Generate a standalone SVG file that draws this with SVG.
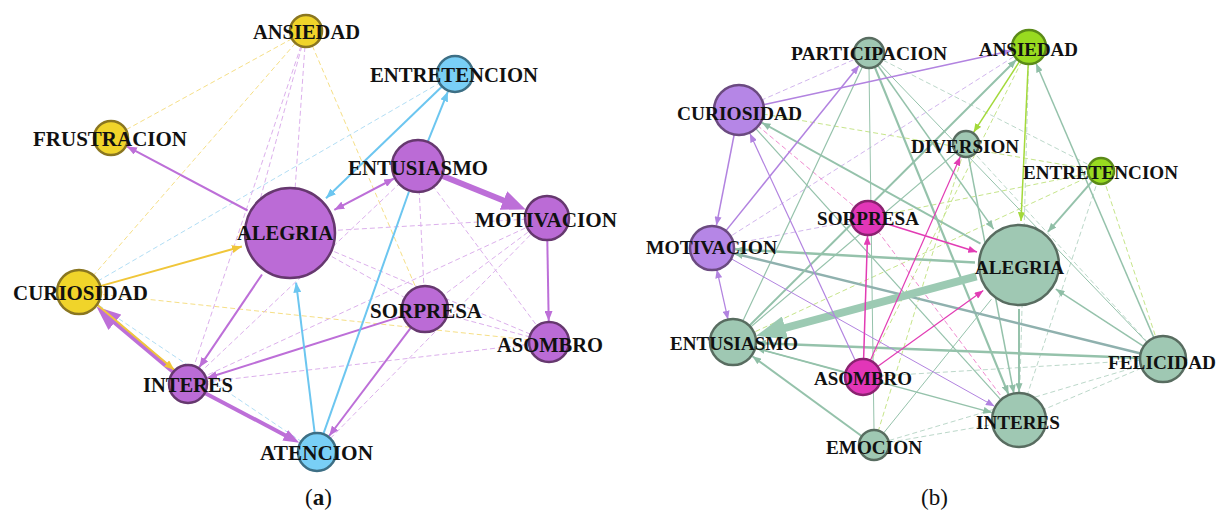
<svg xmlns="http://www.w3.org/2000/svg" width="1219" height="518" viewBox="0 0 1219 518">
<style>
.lbl{font-family:"Liberation Serif","Times New Roman",serif;font-weight:bold;font-size:20px;fill:#111}
.lbr{font-family:"Liberation Serif","Times New Roman",serif;font-weight:bold;font-size:19px;fill:#111}
.cap{font-family:"Liberation Serif","Times New Roman",serif;font-size:23px;fill:#111}
.e{fill:none}
.d{fill:none;stroke-width:1;stroke-dasharray:5 3}
.np{fill:#bb6bd6;stroke:#66386f;stroke-width:2.5}
.ny{fill:#f0d42a;stroke:#8a7620;stroke-width:2.5}
.nb{fill:#79cff6;stroke:#3d6f85;stroke-width:2.5}
.ng{fill:#9fc8b3;stroke:#586c60;stroke-width:2.5}
.nl{fill:#b586e6;stroke:#6b4a80;stroke-width:2.5}
.nm{fill:#e236b8;stroke:#8a2270;stroke-width:2.5}
.nv{fill:#98db20;stroke:#5b8a18;stroke-width:2.5}
</style>
<defs>
<marker id="aP" viewBox="0 0 10 8" refX="10" refY="4" markerWidth="10" markerHeight="8" markerUnits="userSpaceOnUse" orient="auto-start-reverse"><path d="M0,0L10,4L0,8z" fill="#bd6fd8"/></marker>
<marker id="aB" viewBox="0 0 10 8" refX="10" refY="4" markerWidth="10" markerHeight="8" markerUnits="userSpaceOnUse" orient="auto-start-reverse"><path d="M0,0L10,4L0,8z" fill="#6cc6f0"/></marker>
<marker id="aY" viewBox="0 0 10 8" refX="10" refY="4" markerWidth="10" markerHeight="8" markerUnits="userSpaceOnUse" orient="auto-start-reverse"><path d="M0,0L10,4L0,8z" fill="#f0c63a"/></marker>
<marker id="aPbig" viewBox="0 0 24 20" refX="2" refY="10" markerWidth="24" markerHeight="20" markerUnits="userSpaceOnUse" orient="auto"><path d="M0,0L24,10L0,20z" fill="#bd6fd8"/></marker>
<marker id="aPmed" viewBox="0 0 16 12" refX="2" refY="6" markerWidth="16" markerHeight="12" markerUnits="userSpaceOnUse" orient="auto"><path d="M0,0L16,6L0,12z" fill="#bd6fd8"/></marker>
<marker id="aG" viewBox="0 0 10 8" refX="10" refY="4" markerWidth="9" markerHeight="7" markerUnits="userSpaceOnUse" orient="auto-start-reverse"><path d="M0,0L10,4L0,8z" fill="#8fbea6"/></marker>
<marker id="aGbig" viewBox="0 0 30 24" refX="2" refY="12" markerWidth="30" markerHeight="24" markerUnits="userSpaceOnUse" orient="auto"><path d="M0,0L30,12L0,24z" fill="#9ccab3"/></marker>
<marker id="aL" viewBox="0 0 10 8" refX="10" refY="4" markerWidth="9" markerHeight="7" markerUnits="userSpaceOnUse" orient="auto-start-reverse"><path d="M0,0L10,4L0,8z" fill="#b283e0"/></marker>
<marker id="aM" viewBox="0 0 10 8" refX="10" refY="4" markerWidth="9" markerHeight="7" markerUnits="userSpaceOnUse" orient="auto-start-reverse"><path d="M0,0L10,4L0,8z" fill="#e23cb4"/></marker>
<marker id="aV" viewBox="0 0 10 8" refX="10" refY="4" markerWidth="9" markerHeight="7" markerUnits="userSpaceOnUse" orient="auto-start-reverse"><path d="M0,0L10,4L0,8z" fill="#a3d93a"/></marker>
</defs>
<rect width="1219" height="518" fill="#ffffff"/>

<g id="connectors-a">
<g class="d" stroke="#f6df86">
<line x1="306" y1="31" x2="111" y2="138"/>
<line x1="306" y1="31" x2="79" y2="292"/>
<line x1="306" y1="31" x2="425" y2="309"/>
<line x1="79" y1="292" x2="549" y2="342"/>
</g>
<g class="d" stroke="#b2def5">
<line x1="455" y1="74" x2="79" y2="292"/>
<line x1="79" y1="292" x2="317" y2="452"/>
</g>
<g class="d" stroke="#dcb0ec">
<line x1="306" y1="31" x2="260" y2="200"/>
<line x1="306" y1="31" x2="295" y2="190"/>
<line x1="306" y1="31" x2="188" y2="384"/>
<line x1="290" y1="233" x2="547" y2="218"/>
<line x1="290" y1="233" x2="425" y2="309"/>
<line x1="290" y1="233" x2="549" y2="342"/>
<line x1="418" y1="166" x2="425" y2="309"/>
<line x1="418" y1="166" x2="549" y2="342"/>
<line x1="418" y1="166" x2="188" y2="384"/>
<line x1="547" y1="218" x2="425" y2="309"/>
<line x1="547" y1="218" x2="188" y2="384"/>
<line x1="425" y1="309" x2="549" y2="342"/>
<line x1="188" y1="384" x2="549" y2="342"/>
<line x1="547" y1="218" x2="317" y2="452"/>
</g>
<g class="e" stroke="#bd6fd8" stroke-width="2">
<line x1="247.6" y1="210.5" x2="126.9" y2="146.4" marker-end="url(#aP)"/>
<line x1="334.3" y1="209.8" x2="394.1" y2="178.5" marker-start="url(#aP)" marker-end="url(#aP)"/>
<line x1="547.3" y1="240" x2="548.7" y2="321" marker-end="url(#aP)"/>
<line x1="262" y1="274.5" x2="199.2" y2="367.4" marker-end="url(#aP)"/>
<line x1="403.1" y1="315.9" x2="207.1" y2="378" marker-end="url(#aP)"/>
<line x1="411.1" y1="327.4" x2="329.1" y2="436" marker-end="url(#aP)"/>
<line x1="442.1" y1="175.7" x2="505.3" y2="201.2" stroke-width="6" marker-end="url(#aPbig)"/>
<line x1="173.5" y1="371.7" x2="113.4" y2="321" stroke-width="5" marker-end="url(#aPbig)"/>
<line x1="204.8" y1="392.9" x2="286.9" y2="436.2" stroke-width="4" marker-end="url(#aPmed)"/>
</g>
<g class="e" stroke="#6cc6f0" stroke-width="2">
<line x1="442" y1="86.5" x2="326" y2="198.3" marker-end="url(#aB)"/>
<line x1="427.7" y1="141.9" x2="447.9" y2="91.6" marker-end="url(#aB)"/>
<line x1="314.7" y1="433.2" x2="296.1" y2="282.6" marker-end="url(#aB)"/>
<line x1="323.3" y1="434.1" x2="409" y2="191.5"/>
</g>
<g class="e" stroke="#f0c63a" stroke-width="2">
<line x1="100.2" y1="286.1" x2="241.9" y2="246.5" marker-end="url(#aY)"/>
<line x1="97.5" y1="305" x2="174.2" y2="369.8" marker-end="url(#aY)"/>
</g>
</g>

<g id="connectors-b">
<g class="d" stroke="#c6e58a">
<line x1="739" y1="110" x2="1101" y2="171"/>
<line x1="1101" y1="171" x2="1163" y2="359"/>
<line x1="1101" y1="171" x2="733" y2="342"/>
<line x1="1101" y1="171" x2="868" y2="218"/>
<line x1="966" y1="144" x2="874" y2="445"/>
<line x1="1029" y1="47" x2="863" y2="377"/>
</g>
<g class="d" stroke="#d2b6ee">
<line x1="739" y1="110" x2="869" y2="53"/>
<line x1="712" y1="248" x2="1029" y2="47"/>
<line x1="712" y1="248" x2="868" y2="218"/>
</g>
<g class="d" stroke="#f08ad0">
<line x1="739" y1="110" x2="868" y2="218"/>
<line x1="868" y1="218" x2="1019" y2="420"/>
</g>
<g class="d" stroke="#bcd8ca">
<line x1="874" y1="445" x2="1163" y2="359"/>
<line x1="863" y1="377" x2="1163" y2="359"/>
<line x1="1019" y1="420" x2="1163" y2="359"/>
<line x1="1101" y1="171" x2="1019" y2="420"/>
<line x1="966" y1="144" x2="1163" y2="359"/>
<line x1="869" y1="53" x2="1101" y2="171"/>
<line x1="874" y1="445" x2="1019" y2="420"/>
<line x1="1029" y1="47" x2="1019" y2="420"/>
</g>
<g class="e" stroke="#95c2ab" stroke-width="1.5">
<line x1="874.7" y1="66.9" x2="1008.4" y2="394.1" stroke-width="2.2" marker-end="url(#aG)"/>
<line x1="862.6" y1="66.6" x2="743.2" y2="320.3" stroke-width="1.2"/>
<line x1="877.7" y1="65.2" x2="993.6" y2="229.1" marker-end="url(#aG)"/>
<line x1="869" y1="68" x2="874" y2="430" stroke-width="1"/>
<line x1="879.4" y1="63.8" x2="1147" y2="342.4" stroke-width="1"/>
<line x1="755.8" y1="128.6" x2="1000.2" y2="399.2" stroke-width="1.2"/>
<line x1="755.2" y1="348.1" x2="992" y2="412.6" marker-end="url(#aG)"/>
<line x1="883.4" y1="433.3" x2="991.4" y2="299.3" stroke-width="1"/>
<line x1="968.5" y1="156.8" x2="1013.9" y2="393.5" marker-end="url(#aG)"/>
<line x1="956.1" y1="152.4" x2="750.5" y2="327.1" stroke-width="1.2"/>
<line x1="1019" y1="309" x2="1019" y2="392" stroke-width="2" marker-end="url(#aG)"/>
<line x1="975" y1="262.6" x2="735" y2="249.3" stroke-width="2.5" marker-end="url(#aG)"/>
<line x1="1140" y1="358.1" x2="757" y2="343" stroke-width="2.5" marker-end="url(#aG)"/>
<line x1="1140.7" y1="353.5" x2="734.3" y2="253.5" stroke-width="2.5" stroke="#8fb1ae" marker-end="url(#aG)"/>
<line x1="1143.7" y1="346.4" x2="1055.8" y2="289.1" marker-end="url(#aG)"/>
<line x1="861.9" y1="436.2" x2="752.4" y2="356.2" stroke-width="2" marker-end="url(#aG)"/>
<line x1="845.6" y1="372.3" x2="756.2" y2="348.2" marker-end="url(#aG)"/>
<line x1="1092.5" y1="180.8" x2="1047.9" y2="231.8" stroke-width="2" marker-end="url(#aG)"/>
<line x1="1153.9" y1="337.9" x2="1036.1" y2="63.5" marker-end="url(#aG)"/>
<line x1="749.3" y1="325.8" x2="1016.3" y2="59.7" stroke-width="2" marker-end="url(#aG)"/>
<line x1="980.5" y1="243.7" x2="761.8" y2="122.6" stroke-width="2" marker-end="url(#aG)"/>
<line x1="976.5" y1="276.4" x2="783.2" y2="328.5" stroke-width="8" stroke="#9ccab3" marker-end="url(#aGbig)"/>
</g>
<g class="e" stroke="#a3d93a" stroke-width="1.5">
<line x1="1028.2" y1="64" x2="1021" y2="221" marker-end="url(#aV)"/>
<line x1="1019.7" y1="61.2" x2="973.6" y2="132.3" marker-end="url(#aV)"/>
</g>
<g class="e" stroke="#b283e0" stroke-width="1.5">
<line x1="763.4" y1="104.7" x2="1011.4" y2="50.8" marker-end="url(#aL)"/>
<line x1="725.8" y1="230.9" x2="859" y2="65.5" marker-end="url(#aL)"/>
<line x1="734.2" y1="134.5" x2="716.4" y2="225.4" marker-end="url(#aL)"/>
<line x1="716.8" y1="269.5" x2="728" y2="319.5" stroke-width="1.2" marker-start="url(#aL)" marker-end="url(#aL)"/>
<line x1="855.4" y1="360.7" x2="749.9" y2="133.6" stroke-width="1.2" marker-end="url(#aL)"/>
<line x1="731.3" y1="258.8" x2="994.6" y2="406.3" stroke-width="1" marker-end="url(#aL)"/>
</g>
<g class="e" stroke="#e23cb4" stroke-width="1.5">
<line x1="884.2" y1="223" x2="977" y2="252" marker-end="url(#aM)"/>
<line x1="863.6" y1="359" x2="867.5" y2="236" marker-end="url(#aM)"/>
<line x1="877.6" y1="366.5" x2="983.3" y2="290.6" stroke-width="1.2" marker-end="url(#aM)"/>
<line x1="870.3" y1="360.5" x2="960.3" y2="156.8" stroke-width="1.2" marker-end="url(#aM)"/>
</g>
</g>

<g id="node-a-ansiedad"><circle cx="306" cy="31" r="16" class="ny"/><text class="lbl" x="253" y="39" textLength="107" lengthAdjust="spacingAndGlyphs">ANSIEDAD</text></g>
<g id="node-a-frustracion"><circle cx="111" cy="138" r="17" class="ny"/><text class="lbl" x="33" y="146" textLength="154" lengthAdjust="spacingAndGlyphs">FRUSTRACION</text></g>
<g id="node-a-entretencion"><circle cx="455" cy="74" r="18" class="nb"/><text class="lbl" x="370" y="82" textLength="168" lengthAdjust="spacingAndGlyphs">ENTRETENCION</text></g>
<g id="node-a-entusiasmo"><circle cx="418" cy="166" r="26" class="np" stroke-width="3.5"/><text class="lbl" x="348" y="175" textLength="140" lengthAdjust="spacingAndGlyphs">ENTUSIASMO</text></g>
<g id="node-a-alegria"><circle cx="290" cy="233" r="45" class="np" stroke="#5e3466" stroke-width="6"/><text class="lbl" x="237" y="240" textLength="96" lengthAdjust="spacingAndGlyphs">ALEGRIA</text></g>
<g id="node-a-motivacion"><circle cx="547" cy="218" r="22" class="np"/><text class="lbl" x="475" y="227" textLength="142" lengthAdjust="spacingAndGlyphs">MOTIVACION</text></g>
<g id="node-a-curiosidad"><circle cx="79" cy="292" r="22" class="ny"/><text class="lbl" x="13" y="300" textLength="135" lengthAdjust="spacingAndGlyphs">CURIOSIDAD</text></g>
<g id="node-a-sorpresa"><circle cx="425" cy="309" r="23" class="np"/><text class="lbl" x="370" y="318" textLength="112" lengthAdjust="spacingAndGlyphs">SORPRESA</text></g>
<g id="node-a-asombro"><circle cx="549" cy="342" r="20" class="np"/><text class="lbl" x="497" y="352" textLength="106" lengthAdjust="spacingAndGlyphs">ASOMBRO</text></g>
<g id="node-a-interes"><circle cx="188" cy="384" r="19" class="np"/><text class="lbl" x="143" y="392" textLength="90" lengthAdjust="spacingAndGlyphs">INTERES</text></g>
<g id="node-a-atencion"><circle cx="317" cy="452" r="19" class="nb"/><text class="lbl" x="260" y="460" textLength="113" lengthAdjust="spacingAndGlyphs">ATENCION</text></g>

<g id="node-b-participacion"><circle cx="869" cy="53" r="15" class="ng"/><text class="lbr" x="791" y="60" textLength="156" lengthAdjust="spacingAndGlyphs">PARTICIPACION</text></g>
<g id="node-b-ansiedad"><circle cx="1029" cy="47" r="17" class="nv"/><text class="lbr" x="979" y="56" textLength="99" lengthAdjust="spacingAndGlyphs">ANSIEDAD</text></g>
<g id="node-b-curiosidad"><circle cx="739" cy="110" r="25" class="nl" stroke-width="3"/><text class="lbr" x="677" y="120" textLength="125" lengthAdjust="spacingAndGlyphs">CURIOSIDAD</text></g>
<g id="node-b-diversion"><circle cx="966" cy="144" r="13" class="ng"/><text class="lbr" x="911" y="153" textLength="108" lengthAdjust="spacingAndGlyphs">DIVERSION</text></g>
<g id="node-b-entretencion"><circle cx="1101" cy="171" r="13" class="nv"/><text class="lbr" x="1023" y="179" textLength="155" lengthAdjust="spacingAndGlyphs">ENTRETENCION</text></g>
<g id="node-b-sorpresa"><circle cx="868" cy="218" r="17" class="nm"/><text class="lbr" x="817" y="225" textLength="102" lengthAdjust="spacingAndGlyphs">SORPRESA</text></g>
<g id="node-b-alegria"><circle cx="1019" cy="265" r="40" class="ng" stroke="#52665a" stroke-width="5"/><text class="lbr" x="975" y="274" textLength="89" lengthAdjust="spacingAndGlyphs">ALEGRIA</text></g>
<g id="node-b-motivacion"><circle cx="712" cy="248" r="22" class="nl"/><text class="lbr" x="646" y="254" textLength="131" lengthAdjust="spacingAndGlyphs">MOTIVACION</text></g>
<g id="node-b-entusiasmo"><circle cx="733" cy="342" r="23" class="ng"/><text class="lbr" x="670" y="350" textLength="128" lengthAdjust="spacingAndGlyphs">ENTUSIASMO</text></g>
<g id="node-b-asombro"><circle cx="863" cy="377" r="18" class="nm"/><text class="lbr" x="814" y="385" textLength="98" lengthAdjust="spacingAndGlyphs">ASOMBRO</text></g>
<g id="node-b-emocion"><circle cx="874" cy="445" r="15" class="ng"/><text class="lbr" x="826" y="454" textLength="96" lengthAdjust="spacingAndGlyphs">EMOCION</text></g>
<g id="node-b-felicidad"><circle cx="1163" cy="359" r="23" class="ng"/><text class="lbr" x="1108" y="369" textLength="108" lengthAdjust="spacingAndGlyphs">FELICIDAD</text></g>
<g id="node-b-interes"><circle cx="1019" cy="420" r="27" class="ng"/><text class="lbr" x="976" y="429" textLength="84" lengthAdjust="spacingAndGlyphs">INTERES</text></g>

<text class="cap" x="305" y="505">(<tspan font-weight="bold">a</tspan>)</text>
<text class="cap" x="921" y="505">(b)</text>
</svg>
